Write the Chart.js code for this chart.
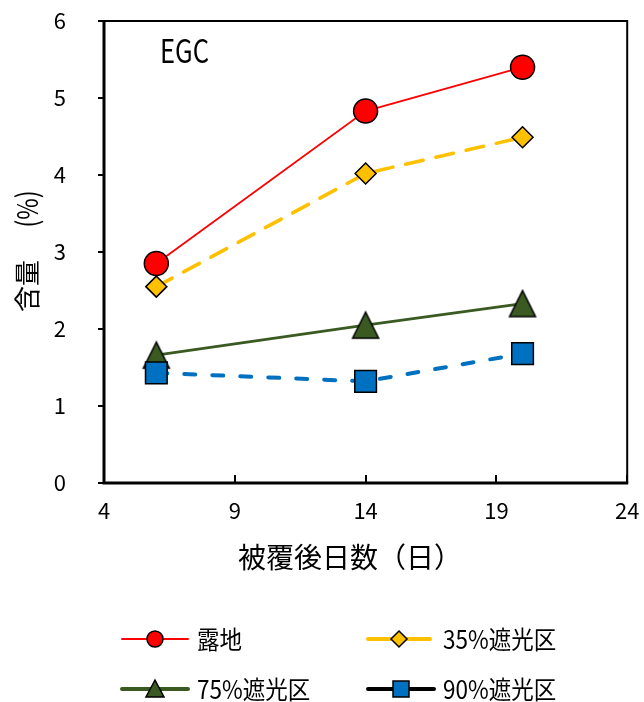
<!DOCTYPE html>
<html>
<head>
<meta charset="utf-8">
<script src="https://cdn.jsdelivr.net/npm/chart.js@4/dist/chart.umd.min.js"></script>
<style>
  html, body { margin: 0; padding: 0; background: #fff; }
  #wrap { width: 644px; height: 702px; }
</style>
</head>
<body>
<div id="wrap"><canvas id="grafico" width="644" height="702"></canvas></div>
<script>
// datos del gráfico
const days = [6, 14, 20];
const seriesNames = ['露地', '35%遮光区', '75%遮光区', '90%遮光区'];
const roji = [2.85, 4.83, 5.40];
const shade35 = [2.55, 4.02, 4.49];
const shade75 = [1.66, 2.05, 2.33];
const shade90 = [1.43, 1.32, 1.68];
const xTicks = [4, 9, 14, 19, 24];
const yTicks = [0, 1, 2, 3, 4, 5, 6];
const panelLabel = 'EGC';
const xTitle = '被覆後日数（日）';
const yTitle = ['含量', '(%)'];

const FONT = "'Noto Sans CJK JP', 'Noto Sans', sans-serif";
const RED = '#FF0000', YELLOW = '#FFC000', GREEN = '#3A5A22', BLUE = '#0070C0';

// triángulo tipo Excel (ancho = alto), centrado en el punto
function triangleCanvas(size, fill) {
  const c = document.createElement('canvas');
  c.width = size + 4; c.height = size + 4;
  const g = c.getContext('2d');
  g.beginPath();
  g.moveTo(2, size + 2);
  g.lineTo(size + 2, size + 2);
  g.lineTo(size / 2 + 2, 2);
  g.closePath();
  g.fillStyle = fill; g.fill();
  g.lineWidth = 1.5; g.strokeStyle = '#000'; g.stroke();
  return c;
}

function toPoints(vals) {
  return days.map((d, i) => ({ x: d, y: vals[i] }));
}

const datasets = [
  {
    label: seriesNames[0], data: toPoints(roji), order: 4,
    borderColor: RED, borderWidth: 1.8,
    pointStyle: 'circle', pointRadius: 12, pointBackgroundColor: RED,
    pointBorderColor: '#000', pointBorderWidth: 1.5
  },
  {
    label: seriesNames[1], data: toPoints(shade35), order: 3,
    borderColor: YELLOW, borderWidth: 3.5, borderDash: [18, 13], borderCapStyle: 'round',
    pointStyle: 'rectRot', pointRadius: 10.5, pointBackgroundColor: YELLOW,
    pointBorderColor: '#000', pointBorderWidth: 1.5
  },
  {
    label: seriesNames[2], data: toPoints(shade75), order: 2,
    borderColor: GREEN, borderWidth: 2.8,
    pointStyle: triangleCanvas(26, GREEN), pointRadius: 13,
    pointBackgroundColor: GREEN, pointBorderColor: '#000'
  },
  {
    label: seriesNames[3], data: toPoints(shade90), order: 1,
    borderColor: BLUE, borderWidth: 4, borderDash: [11, 17], borderCapStyle: 'round',
    pointStyle: 'rect', pointRadius: 15.3, pointBackgroundColor: BLUE,
    pointBorderColor: '#000', pointBorderWidth: 1.5
  }
];

// texto comprimido horizontalmente
function drawText(ctx, text, x, y, size, sx, align, rot) {
  ctx.save();
  ctx.translate(x, y);
  if (rot) ctx.rotate(rot);
  ctx.scale(sx, 1);
  ctx.font = size + 'px ' + FONT;
  ctx.fillStyle = '#000';
  ctx.textAlign = align || 'left';
  ctx.textBaseline = 'middle';
  ctx.fillText(text, 0, 0);
  ctx.restore();
}

function legendMarker(ctx, kind, x, y, color) {
  ctx.save();
  ctx.fillStyle = color; ctx.strokeStyle = '#000'; ctx.lineWidth = 1.5;
  ctx.beginPath();
  if (kind === 'circle') ctx.arc(x, y, 8, 0, Math.PI * 2);
  if (kind === 'diamond') { ctx.moveTo(x, y - 8); ctx.lineTo(x + 8, y); ctx.lineTo(x, y + 8); ctx.lineTo(x - 8, y); ctx.closePath(); }
  if (kind === 'triangle') { ctx.moveTo(x, y - 9); ctx.lineTo(x + 9, y + 8); ctx.lineTo(x - 9, y + 8); ctx.closePath(); }
  if (kind === 'square') ctx.rect(x - 8, y - 8, 16, 16);
  ctx.fill(); ctx.stroke();
  ctx.restore();
}

const marcoPlugin = {
  id: 'marco',
  beforeDatasetsDraw(chart) {
    const { ctx, chartArea: ca, scales } = chart;
    ctx.save();
    ctx.strokeStyle = '#000';
    // borde superior y derecho
    ctx.lineWidth = 2;
    ctx.beginPath();
    ctx.moveTo(ca.left, ca.top); ctx.lineTo(ca.right, ca.top); ctx.lineTo(ca.right, ca.bottom);
    ctx.stroke();
    // ejes
    ctx.lineWidth = 3;
    ctx.beginPath();
    ctx.moveTo(ca.left, ca.top - 1); ctx.lineTo(ca.left, ca.bottom); ctx.lineTo(ca.right + 1, ca.bottom);
    ctx.stroke();
    // marcas
    ctx.lineWidth = 2;
    ctx.beginPath();
    yTicks.forEach(v => {
      const py = Math.round(scales.y.getPixelForValue(v));
      ctx.moveTo(ca.left - 6, py); ctx.lineTo(ca.left, py);
    });
    xTicks.forEach(v => {
      const px = Math.round(scales.x.getPixelForValue(v));
      ctx.moveTo(px, ca.bottom); ctx.lineTo(px, ca.bottom - 8);
    });
    ctx.stroke();
    ctx.restore();
  },
  afterDraw(chart) {
    const ctx = chart.ctx;
    drawText(ctx, panelLabel, 160, 51, 32, 0.8, 'left');
    drawText(ctx, xTitle, 350, 557, 28, 1, 'center');
    drawText(ctx, yTitle[0], 27, 286, 26, 1, 'center', -Math.PI / 2);
    drawText(ctx, yTitle[1], 27, 209, 29, 0.8, 'center', -Math.PI / 2);

    // leyenda
    const items = [
      { x: 122, y: 639, w: 66, lw: 2, line: RED, kind: 'circle', fill: RED },
      { x: 368, y: 639, w: 62, lw: 4, line: YELLOW, kind: 'diamond', fill: YELLOW },
      { x: 122, y: 689, w: 66, lw: 4, line: GREEN, kind: 'triangle', fill: GREEN },
      { x: 368, y: 689, w: 66, lw: 4, line: '#000', kind: 'square', fill: BLUE }
    ];
    items.forEach((it, i) => {
      ctx.save();
      ctx.strokeStyle = it.line; ctx.lineWidth = it.lw; ctx.lineCap = 'round';
      ctx.beginPath(); ctx.moveTo(it.x, it.y); ctx.lineTo(it.x + it.w, it.y); ctx.stroke();
      ctx.restore();
      legendMarker(ctx, it.kind, it.x + it.w / 2, it.y, it.fill);
      drawText(ctx, seriesNames[i], it.x + 75, it.y, 25, 0.9, 'left');
    });
  }
};

const ctx = document.getElementById('grafico').getContext('2d');
const grafico = new Chart(ctx, {
  type: 'line',
  data: { datasets: datasets },
  options: {
    responsive: false,
    animation: false,
    events: [],
    layout: { padding: { left: 0, top: 21, right: 15, bottom: 0 } },
    plugins: { legend: { display: false }, tooltip: { enabled: false } },
    scales: {
      x: {
        type: 'linear', min: 4, max: 24,
        afterBuildTicks: s => { s.ticks = xTicks.map(v => ({ value: v })); },
        afterFit: s => { s.height = 219; s.paddingLeft = 0; s.paddingRight = 0; },
        grid: { display: false, drawTicks: false, tickLength: 0 },
        border: { display: false },
        ticks: { color: '#000', font: { family: FONT, size: 22 }, padding: 14, maxRotation: 0, autoSkip: false }
      },
      y: {
        min: 0, max: 6,
        afterBuildTicks: s => { s.ticks = yTicks.map(v => ({ value: v })); },
        afterFit: s => { s.width = 104; s.paddingTop = 0; s.paddingBottom = 0; },
        grid: { display: false, drawTicks: false, tickLength: 0 },
        border: { display: false },
        ticks: { color: '#000', font: { family: FONT, size: 22 }, padding: 38 }
      }
    }
  },
  plugins: [marcoPlugin]
});
</script>
</body>
</html>
